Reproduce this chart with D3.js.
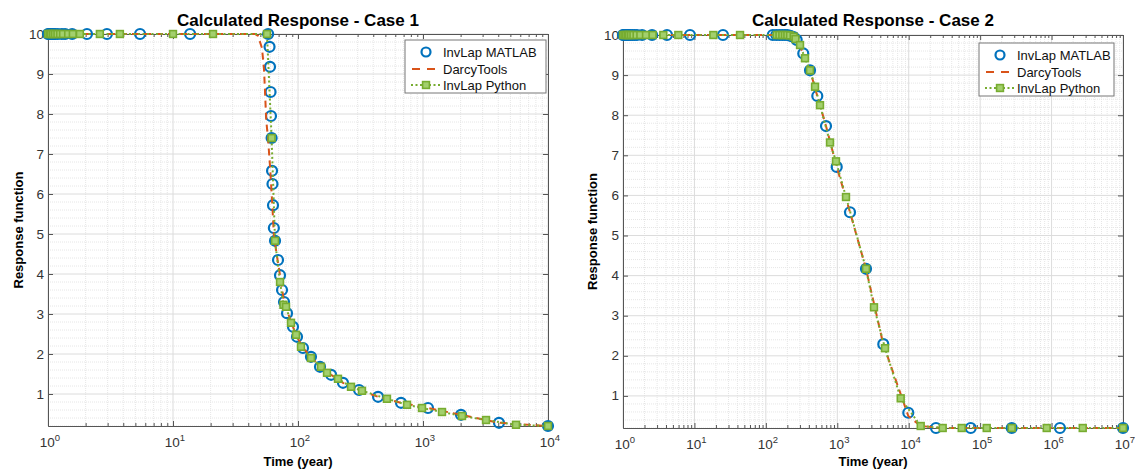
<!DOCTYPE html>
<html><head><meta charset="utf-8">
<script src="https://cdn.jsdelivr.net/npm/d3@7"></script>
<style>
html,body{margin:0;padding:0;background:#fff;}
svg text{font-family:"Liberation Sans",Arial,Helvetica,sans-serif;}
</style></head>
<body><svg id="c" width="1135" height="470"></svg>
<script>
// ---------------- data ----------------
const titles = ["Calculated Response - Case 1", "Calculated Response - Case 2"];
const seriesNames = ["InvLap MATLAB", "DarcyTools", "InvLap Python"];
const yTickValues = [1,2,3,4,5,6,7,8,9,10];
const xTickValues1 = [1,10,100,1000,10000];
const xTickValues2 = [1,10,100,1000,10000,1e5,1e6,1e7];
const xTickExp1 = ["0","1","2","3","4"];
const xTickExp2 = ["0","1","2","3","4","5","6","7"];

// Case 1
const matlabT1 = [1.0,1.02,1.04,1.06,1.08,1.11,1.14,1.2,1.29,1.37,1.56,2.05,2.96,5.45,13.7,57.7,
  59.2,59.7,60.3,60.8,61.5,62.0,62.5,63.1,64.1,65.5,69.2,71.8,74.5,77.3,81.7,91.2,98.2,109.6,127,150,184,229,308,437,667,1096,2014,4055,10000];
const matlabV1 = [10,10,10,10,10,10,10,10,10,10,10,10,10,10,10,10,
  9.68,9.18,8.55,7.95,7.4,6.58,6.25,5.72,5.15,4.83,4.35,3.97,3.6,3.3,3.02,2.68,2.43,2.15,1.93,1.68,1.48,1.28,1.1,0.93,0.78,0.65,0.48,0.28,0.2];
const darcyT1 = [1,10,30,45.3,47.9,51.5,53.5,54.6,55.7,57.7,59.7,62,64.1,67.6,71.8,77.3,84.7,91.2,98.2,109.6,127,150,184,229,308,437,667,1096,2014,4055,10000];
const darcyV1 = [10,10,10,10,9.95,9.65,9.1,8.48,7.85,7.35,6.7,5.85,4.98,4.48,3.97,3.3,2.95,2.68,2.43,2.15,1.93,1.68,1.48,1.28,1.1,0.93,0.78,0.65,0.48,0.28,0.2];
const pythonT1 = [1.0,1.03,1.06,1.1,1.14,1.19,1.25,1.32,1.45,1.58,1.8,2.6,3.76,10.0,20.9,56.5,
  61.5,65.5,71.8,76.5,80.2,87.9,96.4,105.7,127,152.8,170.6,208.9,265.5,325,515,745,982,1419,2051,3192,5546,10000];
const pythonV1 = [10,10,10,10,10,10,10,10,10,10,10,10,10,10,10,10,
  7.4,4.83,3.8,3.23,3.18,2.78,2.48,2.18,1.9,1.68,1.53,1.38,1.18,1.08,0.88,0.73,0.65,0.55,0.45,0.35,0.23,0.2];

// Case 2
const matlabT2 = [1.0,1.03,1.06,1.1,1.15,1.2,1.27,1.35,1.45,1.57,1.85,2.55,4.13,8.67,25.1,
  125,140,155,170,185,200,220,245,270,334,415,525,695,982,1507,2524,4406,9863,24100,73800,276700,1310000,10000000];
const matlabV2 = [10,10,10,10,10,10,10,10,10,10,10,10,10,10,10,
  10,10,10,10,10,10,9.98,9.95,9.88,9.54,9.12,8.48,7.73,6.71,5.58,4.17,2.29,0.58,0.2,0.2,0.2,0.2,0.2];
const darcyT2 = [1,10,100,150,200,245,270,334,415,525,695,982,1507,2524,4406,9863,14720,30000,1e5,1e6,1e7];
const darcyV2 = [10,10,10,10,9.98,9.95,9.88,9.54,9.12,8.48,7.73,6.71,5.58,4.17,2.29,0.5,0.25,0.2,0.2,0.2,0.2];
const pythonT2 = [1.0,1.05,1.1,1.16,1.22,1.3,1.4,1.55,1.75,2.1,2.6,3.67,5.95,18.4,43.5,
  142,155,170,185,200,218,245,260,301,353,415,488,573,791,959,1324,2524,3266,4656,7727,14720,29900,55200,123600,276700,855000,2730000,10000000];
const pythonV2 = [10,10,10,10,10,10,10,10,10,10,10,10,10,10,10,
  10,10,10,10,10,9.99,9.96,9.9,9.75,9.42,9.12,8.71,8.25,7.32,6.85,5.96,4.17,3.21,2.19,0.94,0.25,0.2,0.2,0.2,0.2,0.2,0.2,0.2];

// ---------------- drawing ----------------
const colBlue = "#0072BD", colOrange = "#D95319", colGreen = "#77AC30";
const svg = d3.select("#c");

const panels = [
  {left:48, right:548, top:34, bottom:426, xmax:1e4, xticks:xTickValues1, xexp:xTickExp1, title:titles[0],
   m:[matlabT1,matlabV1], d:[darcyT1,darcyV1], p:[pythonT1,pythonV1],
   legend:{x:405, y:40, w:141, h:53}, ylabX:23},
  {left:623, right:1123, top:35, bottom:428, xmax:1e7, xticks:xTickValues2, xexp:xTickExp2, title:titles[1],
   m:[matlabT2,matlabV2], d:[darcyT2,darcyV2], p:[pythonT2,pythonV2],
   legend:{x:979, y:43, w:135, h:53}, ylabX:597}
];

const zip = (t,v) => t.map((x,i)=>[x,v[i]]);

panels.forEach(P => {
  const x = d3.scaleLog().domain([1, P.xmax]).range([P.left, P.right]);
  const y = d3.scaleLinear().domain([0.2, 10]).range([P.bottom, P.top]);
  const g = svg.append("g");

  // minor grid
  const decades = Math.round(Math.log10(P.xmax));
  const xMinor = [];
  for (let e=0; e<decades; e++) for (let k=2; k<=9; k++) xMinor.push(k*Math.pow(10,e));
  const yMinor = d3.range(1, 50).map(i => i*0.2).filter(v => Math.abs(v-Math.round(v))>1e-6 && v<10);
  g.selectAll(".xmg").data(xMinor).join("line")
    .attr("x1", d=>x(d)).attr("x2", d=>x(d)).attr("y1", P.top).attr("y2", P.bottom)
    .attr("stroke", "#e6e6e6").attr("stroke-width", 1).attr("stroke-dasharray","1,1");
  g.selectAll(".ymg").data(yMinor).join("line")
    .attr("x1", P.left).attr("x2", P.right).attr("y1", d=>y(d)).attr("y2", d=>y(d))
    .attr("stroke", "#e6e6e6").attr("stroke-width", 1).attr("stroke-dasharray","1,1");
  // major grid
  g.selectAll(".xg").data(P.xticks).join("line")
    .attr("x1", d=>x(d)).attr("x2", d=>x(d)).attr("y1", P.top).attr("y2", P.bottom)
    .attr("stroke", "#dcdcdc").attr("stroke-width", 1);
  g.selectAll(".yg").data(yTickValues).join("line")
    .attr("x1", P.left).attr("x2", P.right).attr("y1", d=>y(d)).attr("y2", d=>y(d))
    .attr("stroke", "#dcdcdc").attr("stroke-width", 1);

  // axes (inward ticks, box)
  const axCol = "#555";
  const ax = (sel) => sel.call(s => { s.select(".domain").attr("stroke", axCol); s.selectAll(".tick line").attr("stroke", axCol); s.selectAll("text").remove(); });
  g.append("g").attr("transform", `translate(0,${P.bottom})`)
    .call(d3.axisBottom(x).tickValues(P.xticks).tickSize(-5).tickSizeOuter(0).tickFormat("")).call(ax);
  g.append("g").attr("transform", `translate(0,${P.bottom})`)
    .call(d3.axisBottom(x).tickValues(xMinor).tickSize(-3).tickSizeOuter(0).tickFormat("")).call(ax);
  g.append("g").attr("transform", `translate(0,${P.top})`)
    .call(d3.axisTop(x).tickValues(P.xticks).tickSize(-5).tickSizeOuter(0).tickFormat("")).call(ax);
  g.append("g").attr("transform", `translate(0,${P.top})`)
    .call(d3.axisTop(x).tickValues(xMinor).tickSize(-3).tickSizeOuter(0).tickFormat("")).call(ax);
  g.append("g").attr("transform", `translate(${P.left},0)`)
    .call(d3.axisLeft(y).tickValues(yTickValues).tickSize(-5).tickSizeOuter(0).tickFormat("")).call(ax);
  g.append("g").attr("transform", `translate(${P.right},0)`)
    .call(d3.axisRight(y).tickValues(yTickValues).tickSize(-5).tickSizeOuter(0).tickFormat("")).call(ax);

  // tick labels
  g.selectAll(".yl").data(yTickValues).join("text")
    .attr("x", P.left-4).attr("y", d=>y(d)+4.5).attr("text-anchor","end")
    .attr("font-size", 13.5).attr("fill", "#333").text(d=>d);
  const xl = g.selectAll(".xl").data(P.xticks).join("text")
    .attr("x", d=>x(d)+2).attr("y", P.bottom+21).attr("text-anchor","middle")
    .attr("font-size", 13.5).attr("fill", "#333");
  xl.append("tspan").text("10");
  xl.append("tspan").attr("dy", -6).attr("font-size", 9.5).text((d,i)=>P.xexp[i]);

  // titles / labels
  g.append("text").attr("x", (P.left+P.right)/2).attr("y", 26).attr("text-anchor","middle")
    .attr("font-size", 17).attr("font-weight","bold").attr("fill","#000").text(P.title);
  g.append("text").attr("x", (P.left+P.right)/2).attr("y", 466).attr("text-anchor","middle")
    .attr("font-size", 13).attr("font-weight","bold").attr("fill","#000").text("Time (year)");
  g.append("text").attr("transform", `translate(${P.ylabX},${(P.top+P.bottom)/2}) rotate(-90)`)
    .attr("text-anchor","middle").attr("font-size", 13).attr("font-weight","bold").attr("fill","#000")
    .text("Response function");

  // data
  const line = d3.line().x(d=>x(d[0])).y(d=>y(d[1]));
  g.selectAll(".mc").data(zip(P.m[0],P.m[1])).join("circle")
    .attr("cx", d=>x(d[0])).attr("cy", d=>y(d[1])).attr("r", 5)
    .attr("fill","none").attr("stroke", colBlue).attr("stroke-width", 2.2);
  g.append("path").attr("d", line(zip(P.d[0],P.d[1]))).attr("fill","none")
    .attr("stroke", colOrange).attr("stroke-width", 2).attr("stroke-dasharray","7,5");
  g.append("path").attr("d", line(zip(P.p[0],P.p[1]))).attr("fill","none")
    .attr("stroke", colGreen).attr("stroke-width", 2).attr("stroke-dasharray","2,2.5");
  g.selectAll(".ps").data(zip(P.p[0],P.p[1])).join("rect")
    .attr("x", d=>x(d[0])-3.4).attr("y", d=>y(d[1])-3.4).attr("width", 6.8).attr("height", 6.8)
    .attr("fill", "#a3d06d").attr("stroke", colGreen).attr("stroke-width", 1.6);

  // legend
  const L = P.legend;
  const lg = g.append("g");
  lg.append("rect").attr("x", L.x).attr("y", L.y).attr("width", L.w).attr("height", L.h)
    .attr("fill","#fff").attr("stroke","#777").attr("stroke-width",1);
  const rowY = [L.y+12, L.y+29, L.y+45];
  const sx = L.x + 21, tx = L.x + 38;
  lg.append("circle").attr("cx", sx).attr("cy", rowY[0]).attr("r", 4.5)
    .attr("fill","none").attr("stroke", colBlue).attr("stroke-width", 2.2);
  lg.append("line").attr("x1", sx-15).attr("x2", sx+15).attr("y1", rowY[1]).attr("y2", rowY[1])
    .attr("stroke", colOrange).attr("stroke-width", 2).attr("stroke-dasharray","8,7").attr("stroke-dashoffset", -1);
  lg.append("line").attr("x1", sx-15).attr("x2", sx+15).attr("y1", rowY[2]).attr("y2", rowY[2])
    .attr("stroke", colGreen).attr("stroke-width", 2).attr("stroke-dasharray","2,2.5");
  lg.append("rect").attr("x", sx-3.4).attr("y", rowY[2]-3.4).attr("width",6.8).attr("height",6.8)
    .attr("fill","#a3d06d").attr("stroke", colGreen).attr("stroke-width",1.6);
  seriesNames.forEach((n,i) => {
    lg.append("text").attr("x", tx).attr("y", rowY[i]+4.5).attr("font-size", 13).attr("fill","#111").text(n);
  });
});
</script></body></html>
